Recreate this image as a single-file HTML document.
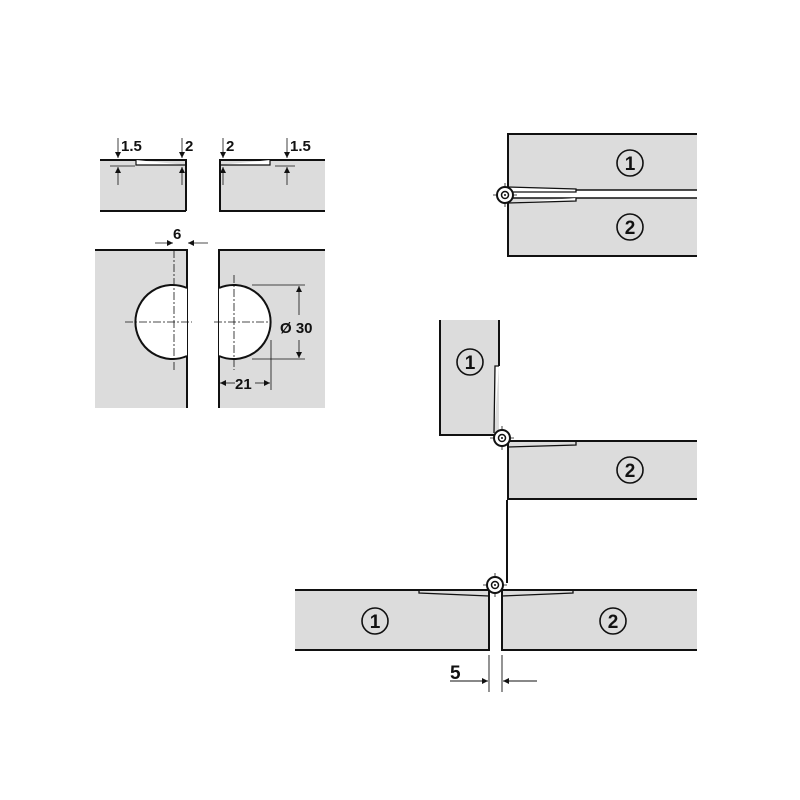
<!DOCTYPE html>
<html><head><meta charset="utf-8"><style>html,body{margin:0;padding:0;background:#fff}svg{display:block}</style></head><body>
<svg width="800" height="800" viewBox="0 0 800 800" xmlns="http://www.w3.org/2000/svg" font-family="Liberation Sans, Arial, sans-serif" font-weight="bold">
<defs>
<marker id="a" viewBox="0 0 10 10" refX="10" refY="5" markerWidth="9" markerHeight="6" orient="auto-start-reverse" markerUnits="userSpaceOnUse"><path d="M0,0L10,5L0,10z" fill="#111"/></marker>
<g id="hinge"><path d="M-12,0H12M0,-12V12" stroke="#111" stroke-width="0.8"/><circle r="8" fill="#fff" stroke="#111" stroke-width="2"/><circle r="3.5" fill="none" stroke="#111" stroke-width="1.5"/><circle r="1" fill="#111"/></g>
</defs>
<g stroke="#111" stroke-width="2" fill="none">
<rect x="100" y="161" width="86" height="50" fill="#dcdcdc" stroke="none"/>
<path d="M100,160H186V211M100,211H186"/>
<path d="M136,160V165H186" stroke-width="1.2" fill="#fff"/>
<rect x="220" y="161" width="105" height="50" fill="#dcdcdc" stroke="none"/>
<path d="M325,160H220V211H325"/>
<path d="M220,165H270V160" stroke-width="1.2" fill="#fff"/>
<rect x="95" y="250" width="92" height="158" fill="#dcdcdc" stroke="none"/>
<path d="M95,250H187V408"/>
<rect x="219" y="250" width="106" height="158" fill="#dcdcdc" stroke="none"/>
<path d="M325,250H219V408"/>
<path d="M187,288 A37,37 0 1 0 187,356" fill="#fff"/>
<path d="M219,288 A37,37 0 1 1 219,356" fill="#fff"/>
</g>
<g stroke="#111" stroke-width="0.8" stroke-dasharray="8,2,2,2" fill="none">
<path d="M174,250V370M125,322H192M234,275V370M214,322H270"/>
</g>
<g stroke="#111" stroke-width="0.8" fill="none">
<path d="M110,166H135"/>
<path d="M118,138V158" marker-end="url(#a)"/><path d="M118,185V167" marker-end="url(#a)"/>
<path d="M182,138V158" marker-end="url(#a)"/><path d="M182,185V167" marker-end="url(#a)"/>
<path d="M223,138V158" marker-end="url(#a)"/><path d="M223,185V167" marker-end="url(#a)"/>
<path d="M287,138V158" marker-end="url(#a)"/><path d="M287,185V167" marker-end="url(#a)"/>
<path d="M275,166H295"/>
<path d="M155,243H173" marker-end="url(#a)"/><path d="M208,243H188" marker-end="url(#a)"/>
<path d="M252,285H305M252,359H305"/>
<path d="M299,315V286" marker-end="url(#a)"/><path d="M299,340V358" marker-end="url(#a)"/>
<path d="M271,340V390"/>
<path d="M235,383H220" marker-end="url(#a)"/><path d="M255,383H270" marker-end="url(#a)"/>
</g>
<g font-size="15" fill="#111">
<text x="121" y="151">1.5</text><text x="185" y="151">2</text>
<text x="226" y="151">2</text><text x="290" y="151">1.5</text>
<text x="173" y="239">6</text>
<text x="280" y="333">Ø 30</text>
<text x="235" y="389">21</text>
</g>
<g stroke="#111" stroke-width="2" fill="none">
<rect x="508" y="135" width="189" height="55" fill="#dcdcdc" stroke="none"/>
<rect x="508" y="198" width="189" height="58" fill="#dcdcdc" stroke="none"/>
<path d="M697,134H508V256H697"/>
<path d="M508,190H697M508,198H697" stroke-width="1.5"/>
<path d="M507,187L576,189V192H508M507,203L576,201V198" stroke-width="1.3" fill="#fff"/>
</g>
<use href="#hinge" x="505" y="195"/>
<g stroke="#111" stroke-width="2" fill="none">
<rect x="440" y="320" width="59" height="115" fill="#dcdcdc" stroke="none"/>
<path d="M440,320V435H496M499,320V366"/>
<path d="M499,366H495L494,433" stroke-width="1.3" fill="#fff"/>
<rect x="508" y="441" width="189" height="58" fill="#dcdcdc" stroke="none"/>
<path d="M697,441H508V499H697"/>
<path d="M508,447L576,445V441" stroke-width="1.3"/>
<path d="M507,500V583"/>
</g>
<use href="#hinge" x="502" y="438"/>
<g stroke="#111" stroke-width="2" fill="none">
<rect x="295" y="591" width="193" height="59" fill="#dcdcdc" stroke="none"/>
<path d="M295,590H489V650H295"/>
<path d="M419,590V593L489,596" stroke-width="1.3"/>
<rect x="502" y="591" width="195" height="59" fill="#dcdcdc" stroke="none"/>
<path d="M697,590H502V650H697"/>
<path d="M502,596L573,593V590" stroke-width="1.3"/>
</g>
<use href="#hinge" x="495" y="585"/>
<g stroke="#111" stroke-width="0.9" fill="none">
<path d="M489,655V692M502,655V692"/>
<path d="M450,681H488" marker-end="url(#a)"/><path d="M537,681H503" marker-end="url(#a)"/>
</g>
<text x="450" y="679" font-size="19" fill="#111">5</text>
<g font-size="19" fill="#111" text-anchor="middle" stroke-width="1.6">
<circle cx="630" cy="163" r="13" fill="none" stroke="#111"/><text x="630" y="170">1</text>
<circle cx="630" cy="227" r="13" fill="none" stroke="#111"/><text x="630" y="234">2</text>
<circle cx="470" cy="362" r="13" fill="none" stroke="#111"/><text x="470" y="369">1</text>
<circle cx="630" cy="470" r="13" fill="none" stroke="#111"/><text x="630" y="477">2</text>
<circle cx="375" cy="621" r="13" fill="none" stroke="#111"/><text x="375" y="628">1</text>
<circle cx="613" cy="621" r="13" fill="none" stroke="#111"/><text x="613" y="628">2</text>
</g>
</svg>
</body></html>
